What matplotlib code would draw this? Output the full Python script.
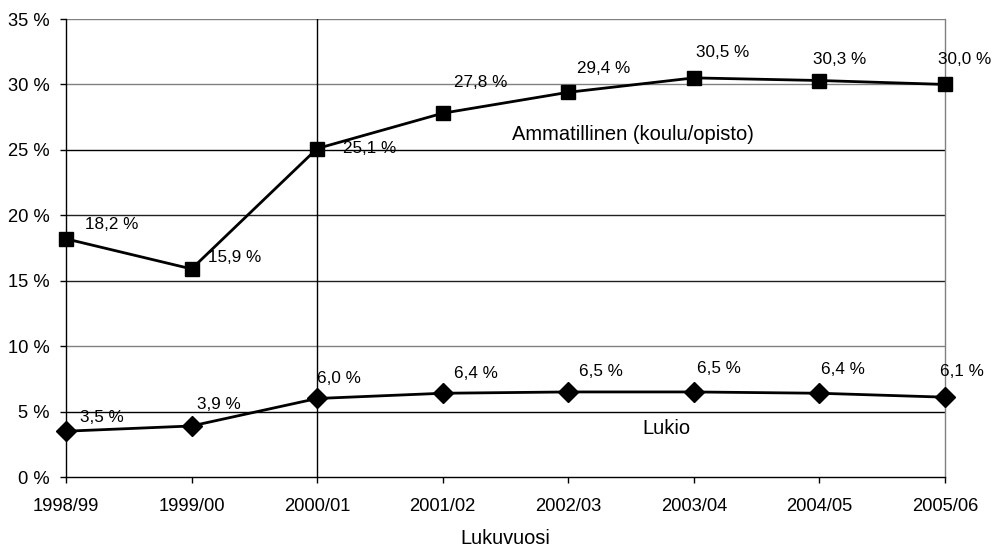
import matplotlib
matplotlib.use("Agg")
import matplotlib.pyplot as plt
from matplotlib.ticker import FuncFormatter

plt.rcParams['font.family'] = ['Liberation Sans', 'DejaVu Sans']

years = ["1998/99", "1999/00", "2000/01", "2001/02", "2002/03", "2003/04", "2004/05", "2005/06"]
ammatillinen = [18.2, 15.9, 25.1, 27.8, 29.4, 30.5, 30.3, 30.0]
lukio = [3.5, 3.9, 6.0, 6.4, 6.5, 6.5, 6.4, 6.1]
yticks = [0, 5, 10, 15, 20, 25, 30, 35]

# label offsets in pixels (left edge x, centre y) relative to the point
amm_off = [(19, 14), (16, 11), (26, 0), (11, 31), (9, 24), (2, 25), (-6, 21), (-7, 25)]
luk_off = [(14, 14), (5, 21), (0, 20), (11, 20), (11, 20), (3, 23), (2, 24), (-5, 26)]

fig = plt.figure(figsize=(9.92, 5.47), dpi=100)
ax = fig.add_axes([66/992, 1-477/547, (945-66)/992, (477-19)/547])

x = list(range(len(years)))

grid_colors = {5: '#000000', 10: '#808080', 15: '#202020', 20: '#202020',
               25: '#000000', 30: '#808080', 35: '#808080'}
for v, c in grid_colors.items():
    ax.axhline(v, color=c, lw=1.0, zorder=1)
ax.axvline(2, color='black', lw=1.0, zorder=1)

ax.plot(x, ammatillinen, color='black', lw=2.0, marker='s', ms=9.5, zorder=3, clip_on=False)
ax.plot(x, lukio, color='black', lw=2.0, marker='D', ms=10, zorder=3, clip_on=False)

def fmt(v):
    return f"{v:.1f}".replace('.', ',') + " %"

px = 72 / 100
for xi, v, (dx, dy) in zip(x, ammatillinen, amm_off):
    ax.annotate(fmt(v), (xi, v), xytext=(dx * px, dy * px), textcoords='offset points',
                ha='left', va='center', fontsize=12.3, zorder=4, annotation_clip=False)
for xi, v, (dx, dy) in zip(x, lukio, luk_off):
    ax.annotate(fmt(v), (xi, v), xytext=(dx * px, dy * px), textcoords='offset points',
                ha='left', va='center', fontsize=12.3, zorder=4, annotation_clip=False)

ax.text(4.515, 26.2, "Ammatillinen (koulu/opisto)", ha='center', va='center', fontsize=14.5, zorder=4)
ax.text(4.78, 3.67, "Lukio", ha='center', va='center', fontsize=14.5, zorder=4)

ax.set_xlim(0, len(years) - 1)
ax.set_ylim(0, 35)
ax.set_xticks(x)
ax.set_xticklabels(years)
ax.set_yticks(yticks)
ax.yaxis.set_major_formatter(FuncFormatter(lambda v, p: f"{v:.0f} %"))
ax.tick_params(axis='both', labelsize=13.2, length=4, width=1, color='black', direction='out')
ax.tick_params(axis='y', pad=8)
ax.tick_params(axis='x', pad=11)
ax.set_xlabel("Lukuvuosi", fontsize=14.4, labelpad=10)

for s in ['left', 'bottom']:
    ax.spines[s].set_color('black')
    ax.spines[s].set_linewidth(1.0)
ax.spines['top'].set_visible(False)
ax.spines['right'].set_color('#808080')
ax.spines['right'].set_linewidth(1.0)
for sp in ax.spines.values():
    sp.set_zorder(2)

fig.savefig("out.png", dpi=100)
